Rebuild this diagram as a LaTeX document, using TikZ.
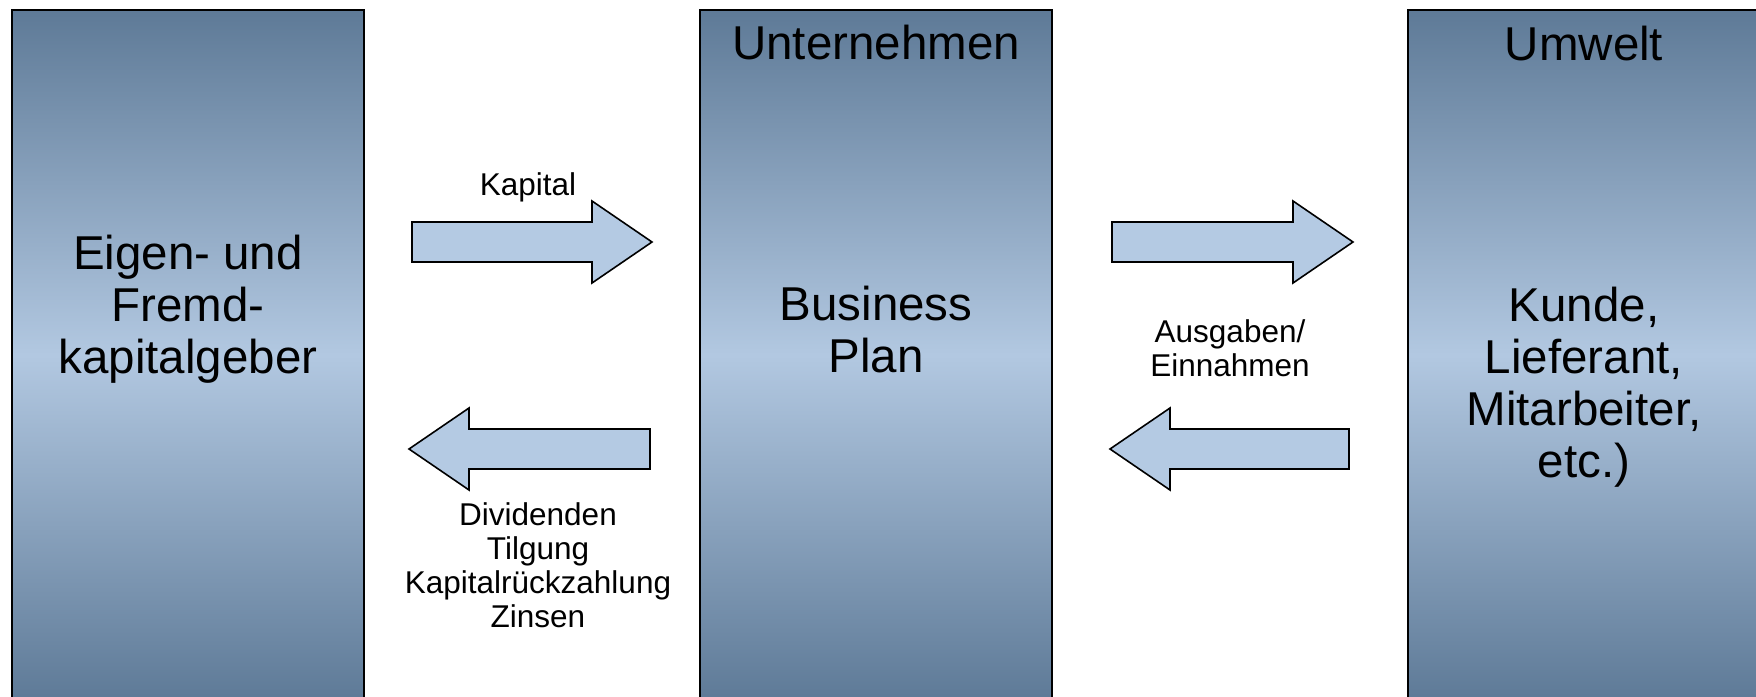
\documentclass[tikz,border=0pt]{standalone}
\usepackage{fontspec}
\setmainfont{Liberation Sans}
\usepackage{tikz}
\usetikzlibrary{positioning, calc}
\definecolor{boxdark}{RGB}{94,122,151}
\definecolor{boxlight}{RGB}{178,200,225}
\definecolor{arrowfill}{RGB}{180,202,227}
\tikzset{
  panel/.style={rectangle, draw=black, line width=1.6pt,
    minimum width=352pt, minimum height=690pt, inner sep=0pt,
    top color=boxdark, bottom color=boxdark, middle color=boxlight},
  bigtext/.style={align=center, inner sep=0pt,
    font=\fontsize{47.5}{52}\selectfont},
  headtext/.style={inner sep=0pt, font=\fontsize{47.5}{52}\selectfont},
  flowlabel/.style={align=center, inner sep=0pt,
    font=\fontsize{31.5}{34}\selectfont},
  flowarrow/.style={draw=black, fill=arrowfill, line width=1.6pt,
    line join=miter}
}
% block arrow: back x, tip x, centre y
\newcommand{\flowarrow}[3]{%
  \pgfmathsetmacro{\headx}{#2-60*sign(#2-#1)}%
  \draw[flowarrow] (#1,#3-20) -- (\headx,#3-20) -- (\headx,#3-41)
    -- (#2,#3) -- (\headx,#3+41) -- (\headx,#3+20) -- (#1,#3+20) -- cycle;}

\begin{document}
\begin{tikzpicture}[x=1pt, y=-1pt]
  \useasboundingbox (0,0) rectangle (1756,696);
  \clip (0,0) rectangle (1756,696);

  % Three columns
  \node[panel] (geber) at (188,355) {};
  \node[panel] (firma) at (876,355) {};
  \node[panel] (umwelt) at (1584,355) {};

  % Headers
  \node[headtext] (firmaHead) at (876,43) {Unternehmen};
  \node[headtext] (umweltHead) at (1584,44) {Umwelt};

  % Box texts
  \node[bigtext] (geberText) at (188,309) {Eigen- und\ \\Fremd-\\kapitalgeber};
  \node[bigtext] (firmaText) at (876,330) {Business\\Plan};
  \node[bigtext] (umweltText) at (1584,387) {Kunde,\ \\Lieferant,\\Mitarbeiter,\\etc.)};

  % Flows
  \flowarrow{412}{652}{242}
  \flowarrow{650}{409}{449}
  \flowarrow{1112}{1353}{242}
  \flowarrow{1349}{1110}{449}

  \node[flowlabel] (kapital) at (528,187) {Kapital};
  \node[flowlabel] (rueck) at (538,565) {Dividenden\\Tilgung\\Kapitalrückzahlung\\Zinsen};
  \node[flowlabel] (geld) at (1230,348) {Ausgaben/\\Einnahmen};
\end{tikzpicture}
\end{document}
